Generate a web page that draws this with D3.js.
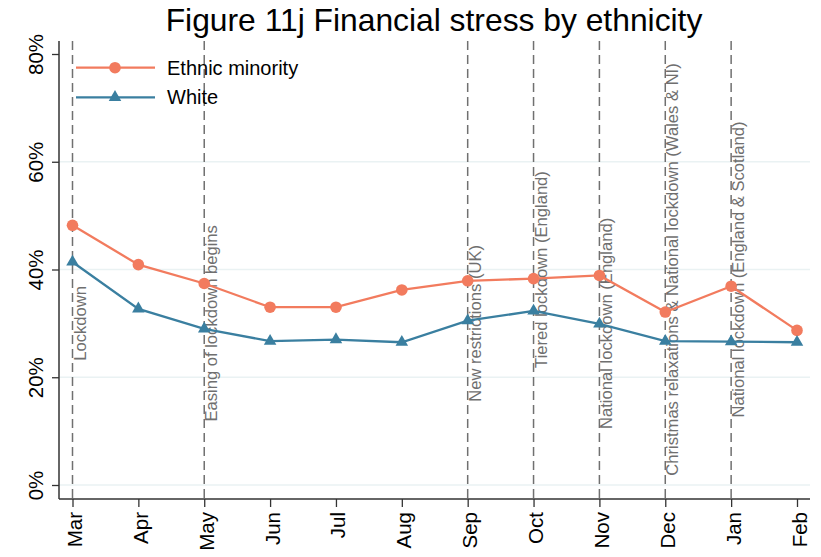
<!DOCTYPE html>
<html><head><meta charset="utf-8">
<script src="https://cdn.jsdelivr.net/npm/d3@7"></script>
<style>
html,body{margin:0;padding:0;background:#fff;}
text{font-family:"Liberation Sans",Arial,sans-serif;}
</style></head>
<body><svg id="chart" width="821" height="557"></svg>
<script>
const months = ["Mar","Apr","May","Jun","Jul","Aug","Sep","Oct","Nov","Dec","Jan","Feb"];
const ethnicMinority = [48.2,40.9,37.4,33.0,33.0,36.2,37.9,38.3,38.9,32.1,36.9,28.7];
const white = [41.4,32.7,29.0,26.7,27.0,26.5,30.5,32.3,29.9,26.7,26.6,26.5];
const yTicks = [0,20,40,60,80];
const gridValues = [0,20,40,60];
const eventMonths = ["Mar","May","Sep","Oct","Nov","Dec","Jan"];
const eventLabels = ["Lockdown","Easing of lockdown begins","New restrictions (UK)","Tiered lockdown (England)","National lockdown (England)","Christmas relaxations & National lockdown (Wales & NI)","National lockdown (England & Scotland)"];
const eventLabelY = [30,30,30,40,30,40,40];
const seriesNames = ["Ethnic minority","White"];
const colors = ["#f27b5e","#3a7fa0"];

(function(){
const svg = d3.select("#chart");
const x = d3.scalePoint().domain(months).range([72.5,797]).padding(0);
const y = d3.scaleLinear().domain([0,80]).range([485,54]);
const pl = 59, pb = 499, pr = 810, pt = 41;

svg.append("text").attr("x",434).attr("y",31).attr("text-anchor","middle")
  .style("font-size","31.8px").attr("fill","#000").text("Figure 11j Financial stress by ethnicity");

svg.append("g").selectAll("line").data(gridValues).join("line")
  .attr("x1",pl).attr("x2",pr).attr("y1",d=>y(d)).attr("y2",d=>y(d))
  .attr("stroke","#eaf2f3").attr("stroke-width",1.5);

svg.append("g").selectAll("line").data(eventMonths).join("line")
  .attr("x1",d=>x(d)).attr("x2",d=>x(d)).attr("y1",pt).attr("y2",pb)
  .attr("stroke","#707070").attr("stroke-width",1.5).attr("stroke-dasharray","9,5");

svg.append("g").selectAll("text").data(eventMonths).join("text")
  .attr("transform",(d,i)=>`translate(${x(d)+13},${y(eventLabelY[i])}) rotate(-90)`)
  .attr("text-anchor","middle").style("font-size","16.6px").attr("fill","#6f6f6f")
  .text((d,i)=>eventLabels[i]);

const yAxis = d3.axisLeft(y).tickValues(yTicks).tickFormat(d=>d+"%").tickSize(7).tickPadding(9);
const gy = svg.append("g").attr("transform",`translate(${pl},0)`).call(yAxis);
gy.select(".domain").remove();
gy.append("line").attr("x1",0).attr("x2",0).attr("y1",pt).attr("y2",pb).attr("stroke","#333").attr("stroke-width",1.5);
gy.selectAll(".tick line").attr("stroke","#333").attr("stroke-width",1.3);
gy.selectAll(".tick text").attr("x",null).attr("dy",null).attr("y",0)
  .attr("transform","translate(-16,0) rotate(-90)")
  .attr("text-anchor","middle")
  .style("font-size","20.5px").attr("fill","#000").style("font-family",'"Liberation Sans",Arial,sans-serif');

const xAxis = d3.axisBottom(x).tickSize(8).tickPadding(0);
const gx = svg.append("g").attr("transform",`translate(0,${pb})`).call(xAxis);
gx.select(".domain").remove();
gx.append("line").attr("x1",pl).attr("x2",pr).attr("y1",0).attr("y2",0).attr("stroke","#333").attr("stroke-width",1.5);
gx.selectAll(".tick line").attr("stroke","#333").attr("stroke-width",1.3);
gx.selectAll(".tick text").attr("x",null).attr("dy",null).attr("y",0)
  .attr("transform","translate(9,13) rotate(-90)")
  .attr("text-anchor","end").style("font-size","20.5px").attr("fill","#000")
  .style("font-family",'"Liberation Sans",Arial,sans-serif');

const series = [ethnicMinority, white];
const line = d3.line().x((d,i)=>x(months[i])).y(d=>y(d));
series.forEach((s,k)=>{
  svg.append("path").datum(s).attr("d",line).attr("fill","none")
    .attr("stroke",colors[k]).attr("stroke-width",2.3);
});
svg.append("g").selectAll("circle").data(ethnicMinority).join("circle")
  .attr("cx",(d,i)=>x(months[i])).attr("cy",d=>y(d)).attr("r",5.8).attr("fill",colors[0]);
const tri = d3.symbol().type(d3.symbolTriangle).size(68);
svg.append("g").selectAll("path").data(white).join("path")
  .attr("d",tri).attr("transform",(d,i)=>`translate(${x(months[i])},${y(d)})`).attr("fill",colors[1]);

const legY = [67.7, 97.3];
const leg = svg.append("g");
seriesNames.forEach((n,k)=>{
  leg.append("line").attr("x1",76).attr("x2",155).attr("y1",legY[k]).attr("y2",legY[k])
    .attr("stroke",colors[k]).attr("stroke-width",2.3);
  if(k===0) leg.append("circle").attr("cx",115).attr("cy",legY[k]).attr("r",5.8).attr("fill",colors[k]);
  else leg.append("path").attr("d",tri).attr("transform",`translate(115,${legY[k]})`).attr("fill",colors[k]);
  leg.append("text").attr("x",167).attr("y",legY[k]).attr("dy","0.35em")
    .style("font-size","20px").attr("fill","#000").text(n);
});
})();
</script></body></html>
